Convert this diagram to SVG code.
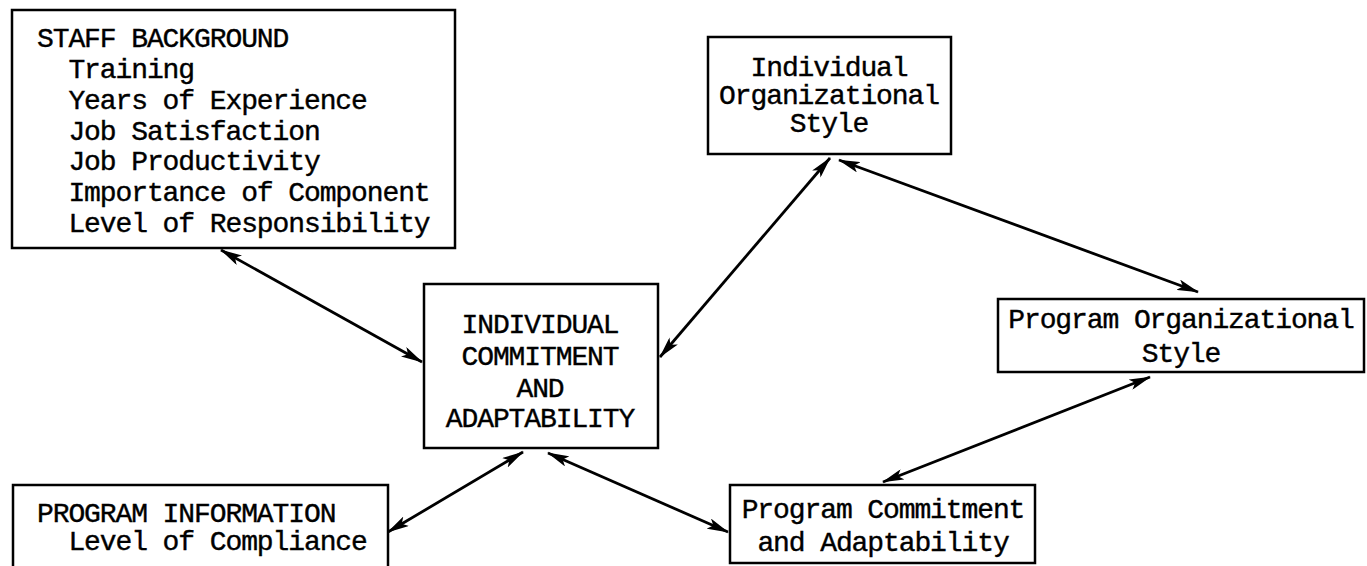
<svg xmlns="http://www.w3.org/2000/svg" width="1367" height="566" viewBox="0 0 1367 566">
<style>
.box{fill:#fff;stroke:#000;stroke-width:2.5}
.t{font-family:"Liberation Mono","DejaVu Sans Mono",monospace;font-size:28px;letter-spacing:-1.1px;fill:#000;stroke:#000;stroke-width:0.4}
.c{text-anchor:middle}
.ln{stroke:#000;stroke-width:2.8;fill:none;marker-start:url(#ah);marker-end:url(#ah)}
</style>
<defs>
<marker id="ah" viewBox="0 0 22 11" refX="21" refY="5.5" markerWidth="22" markerHeight="11" markerUnits="userSpaceOnUse" orient="auto-start-reverse">
<path d="M0,0 L22,5.5 L0,11 L5,5.5 Z" fill="#000"/>
</marker>
</defs>
<rect width="1367" height="566" fill="#fff"/>
<g id="staff-background">
<rect class="box" x="12" y="10" width="443" height="238"/>
<text class="t" x="37" y="47" xml:space="preserve">STAFF BACKGROUND</text>
<text class="t" x="37" y="78" xml:space="preserve">  Training</text>
<text class="t" x="37" y="109" xml:space="preserve">  Years of Experience</text>
<text class="t" x="37" y="140" xml:space="preserve">  Job Satisfaction</text>
<text class="t" x="37" y="170" xml:space="preserve">  Job Productivity</text>
<text class="t" x="37" y="201" xml:space="preserve">  Importance of Component</text>
<text class="t" x="37" y="232" xml:space="preserve">  Level of Responsibility</text>
</g>
<g id="individual-commitment">
<rect class="box" x="424" y="284" width="234" height="164"/>
<text class="t c" x="540" y="333">INDIVIDUAL</text>
<text class="t c" x="540" y="365">COMMITMENT</text>
<text class="t c" x="540" y="397">AND</text>
<text class="t c" x="540" y="427">ADAPTABILITY</text>
</g>
<g id="individual-organizational-style">
<rect class="box" x="708" y="37" width="243" height="117"/>
<text class="t c" x="829" y="76">Individual</text>
<text class="t c" x="829" y="104">Organizational</text>
<text class="t c" x="829" y="132">Style</text>
</g>
<g id="program-organizational-style">
<rect class="box" x="998" y="299" width="366" height="73"/>
<text class="t c" x="1181" y="328">Program Organizational</text>
<text class="t c" x="1181" y="362">Style</text>
</g>
<g id="program-information">
<rect class="box" x="13" y="485" width="375" height="90"/>
<text class="t" x="37" y="522" xml:space="preserve">PROGRAM INFORMATION</text>
<text class="t" x="37" y="550" xml:space="preserve">  Level of Compliance</text>
</g>
<g id="program-commitment">
<rect class="box" x="730" y="485" width="305" height="78"/>
<text class="t c" x="883" y="518">Program Commitment</text>
<text class="t c" x="883" y="551">and Adaptability</text>
</g>
<g id="connectors">
<line class="ln" x1="221" y1="250" x2="422" y2="362"/>
<line class="ln" x1="660" y1="357" x2="830" y2="158"/>
<line class="ln" x1="839" y1="160" x2="1198" y2="292"/>
<line class="ln" x1="883" y1="482" x2="1150" y2="377"/>
<line class="ln" x1="388" y1="532" x2="523" y2="452"/>
<line class="ln" x1="548" y1="453" x2="728" y2="532"/>
</g>
</svg>
